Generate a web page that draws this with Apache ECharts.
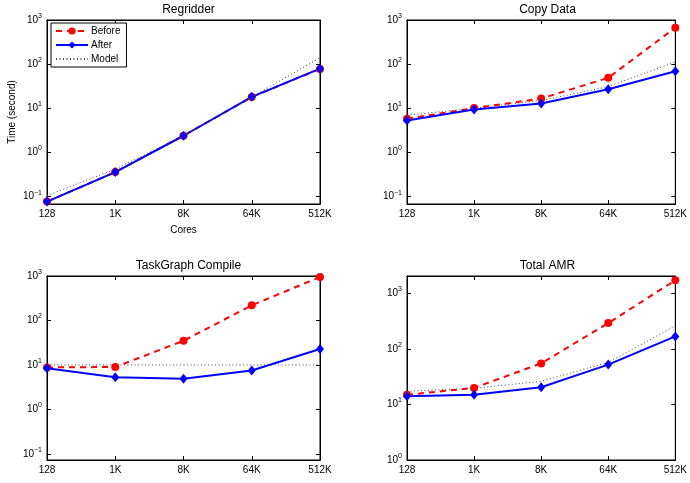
<!DOCTYPE html>
<html>
<head>
<meta charset="utf-8">
<script src="https://cdn.jsdelivr.net/npm/echarts@6/dist/echarts.min.js"></script>
<style>
html, body { margin: 0; padding: 0; background: #fff; }
#main { width: 690px; height: 483px; }
</style>
</head>
<body>
<div id="main"></div>
<script>
var cores = ['128', '1K', '8K', '64K', '512K'];
var panelTitles = ['Regridder', 'Copy Data', 'TaskGraph Compile', 'Total AMR'];

var regridBefore = [0.077, 0.36, 2.4, 18, 78];
var regridAfter = [0.077, 0.36, 2.39, 18.2, 79];
var regridModel = [0.105, 0.42, 2.4, 18, 140];

var copyBefore = [5.8, 10.1, 16.6, 49, 670];
var copyAfter = [5.3, 9.4, 12.8, 27, 69];
var copyModel = [7, 10, 15, 31, 112];

var compileBefore = [8.8, 9.0, 35, 219, 950];
var compileAfter = [8.4, 5.3, 4.9, 7.5, 22.8];
var compileModel = [10, 10, 10, 10, 10];

var amrBefore = [14.9, 19.8, 54.7, 290, 1710];
var amrAfter = [14.0, 14.9, 20.3, 52, 167];
var amrModel = [17.2, 19.5, 26, 57, 259];

var yMins = [0.068, 0.068, 0.073, 1];
var yMaxs = [1000, 1000, 1000, 2040];

var myChart = echarts.init(document.getElementById('main'));

// grid boxes, in pixels
var boxes = [
    {left: 47, top: 20, width: 273, height: 184},
    {left: 407, top: 20, width: 271, height: 184},
    {left: 47, top: 276, width: 273, height: 184},
    {left: 407, top: 276, width: 271, height: 184}
];

var font = 'Liberation Sans, Arial, sans-serif';

function powLabel(v) {
    var e = Math.log10(v);
    var r = Math.round(e);
    if (Math.abs(e - r) > 0.01) return '';
    return '{b|10}{s|' + (r < 0 ? '\u2212' + (-r) : r) + '}';
}

var grids = [], xAxes = [], yAxes = [], titles = [], series = [];
var allData = [
    [regridBefore, regridAfter, regridModel],
    [copyBefore, copyAfter, copyModel],
    [compileBefore, compileAfter, compileModel],
    [amrBefore, amrAfter, amrModel]
];

for (var i = 0; i < 4; i++) {
    var b = boxes[i];
    grids.push({
        left: b.left, top: b.top, width: b.width, height: b.height,
        show: true, borderColor: '#000', borderWidth: 1, backgroundColor: '#fff'
    });
    titles.push({
        text: panelTitles[i],
        left: b.left + b.width / 2,
        top: b.top - 21,
        textAlign: 'center',
        textStyle: {fontFamily: font, fontSize: 12, fontWeight: 'normal', color: '#000'}
    });
    // bottom x axis
    xAxes.push({
        gridIndex: i, type: 'category', data: cores, boundaryGap: false,
        position: 'bottom',
        name: i === 0 ? 'Cores' : '', nameLocation: 'middle', nameGap: 21,
        nameTextStyle: {fontFamily: font, fontSize: 10, color: '#000'},
        axisLine: {lineStyle: {color: '#000', width: 1}},
        axisTick: {inside: true, length: 4, lineStyle: {color: '#000'}},
        axisLabel: {fontFamily: font, fontSize: 10, color: '#000', margin: 5},
        splitLine: {show: false}
    });
    // top mirror
    xAxes.push({
        gridIndex: i, type: 'category', data: cores, boundaryGap: false,
        position: 'top',
        axisLine: {lineStyle: {color: '#000', width: 1}},
        axisTick: {inside: true, length: 4, lineStyle: {color: '#000'}},
        axisLabel: {show: false},
        splitLine: {show: false}
    });
    yAxes.push({
        gridIndex: i, type: 'log', logBase: 10, min: yMins[i], max: yMaxs[i],
        position: 'left',
        name: i === 0 ? 'Time (second)' : '', nameLocation: 'middle', nameGap: 30,
        nameTextStyle: {fontFamily: font, fontSize: 10, color: '#000'},
        axisLine: {show: true, lineStyle: {color: '#000', width: 1}},
        axisTick: {show: true, inside: true, length: 4, lineStyle: {color: '#000'}},
        axisLabel: {
            formatter: powLabel, margin: 5,
            rich: {
                b: {fontFamily: font, fontSize: 10, color: '#000'},
                s: {fontFamily: font, fontSize: 7, color: '#000', padding: [0, 0, 8, 0]}
            }
        },
        splitLine: {show: false}
    });
    yAxes.push({
        gridIndex: i, type: 'log', logBase: 10, min: yMins[i], max: yMaxs[i],
        position: 'right',
        axisLine: {show: true, lineStyle: {color: '#000', width: 1}},
        axisTick: {show: true, inside: true, length: 4, lineStyle: {color: '#000'}},
        axisLabel: {show: false},
        splitLine: {show: false}
    });

    var d = allData[i];
    series.push({
        name: 'Before', type: 'line', xAxisIndex: i * 2, yAxisIndex: i * 2,
        data: d[0], symbol: 'circle', symbolSize: 8,
        lineStyle: {color: '#ff0000', width: 2, type: [6, 5]},
        itemStyle: {color: '#ff0000'}
    });
    series.push({
        name: 'After', type: 'line', xAxisIndex: i * 2, yAxisIndex: i * 2,
        data: d[1], symbol: 'diamond', symbolSize: [8, 10],
        lineStyle: {color: '#0000ff', width: 2},
        itemStyle: {color: '#0000ff'}
    });
    series.push({
        name: 'Model', type: 'line', xAxisIndex: i * 2, yAxisIndex: i * 2,
        data: d[2], symbol: 'none',
        lineStyle: {color: '#444', width: 1, type: [1, 2.5]},
        itemStyle: {color: 'rgba(0,0,0,0)'}
    });
}

var option = {
    animation: false,
    backgroundColor: '#fff',
    title: titles,
    legend: {
        data: ['Before', 'After', 'Model'],
        orient: 'vertical',
        left: 51, top: 23,
        itemWidth: 32, itemHeight: 9, itemGap: 4,
        padding: [3, 6, 3, 4],
        backgroundColor: '#fff',
        borderColor: '#000', borderWidth: 1,
        textStyle: {fontFamily: font, fontSize: 10, color: '#000', padding: [0, 0, 0, -2]}
    },
    grid: grids,
    xAxis: xAxes,
    yAxis: yAxes,
    series: series
};
myChart.setOption(option);
</script>
</body>
</html>
